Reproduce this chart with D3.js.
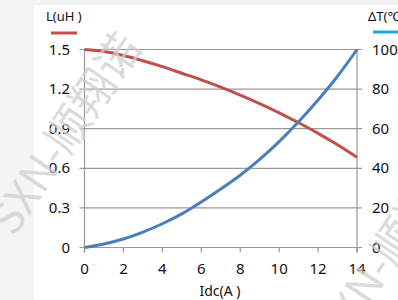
<!DOCTYPE html>
<html>
<head>
<meta charset="utf-8">
<script src="https://cdn.jsdelivr.net/npm/d3@7"></script>
<style>
  body { margin: 0; background: #f4f4f4; }
  svg { display: block; }
  text { font-family: "Noto Sans", "Open Sans", sans-serif; fill: #111; }
</style>
</head>
<body>
<script>
// data
var current = [0, 1, 2, 3, 4, 5, 6, 7, 8, 9, 10, 11, 12, 13, 14];
var inductance = [1.5, 1.485, 1.455, 1.415, 1.37, 1.32, 1.27, 1.215, 1.155, 1.09, 1.02, 0.945, 0.865, 0.778, 0.683];
var tempRise = [0, 1.8, 4.3, 7.8, 12, 17, 23, 29.5, 36.5, 44.5, 53.5, 63.5, 74.5, 86.5, 100];
var xTicks = [0, 2, 4, 6, 8, 10, 12, 14];
var lTicks = [0, 0.3, 0.6, 0.9, 1.2, 1.5];
var tTicks = [0, 20, 40, 60, 80, 100];

var W = 398, H = 300;
var m = { left: 84.5, right: 41, top: 49.5, bottom: 52.5 };

var svg = d3.select("body").append("svg").attr("width", W).attr("height", H);

// white sheet behind the chart
svg.append("rect").attr("x", 34).attr("y", 5).attr("width", W - 34).attr("height", H - 5).attr("fill", "#fff");

var x = d3.scaleLinear().domain([0, 14]).range([m.left, W - m.right]);
var yL = d3.scaleLinear().domain([0, 1.5]).range([H - m.bottom, m.top]);
var yT = d3.scaleLinear().domain([0, 100]).range([H - m.bottom, m.top]);

// gridlines with ticks poking out on both sides
svg.append("g").selectAll("line").data(lTicks).enter().append("line")
  .attr("x1", m.left - 5).attr("x2", W - m.right + 5)
  .attr("y1", function(d) { return yL(d); }).attr("y2", function(d) { return yL(d); })
  .attr("stroke", "#9a9a9a").attr("stroke-width", 1.2);

// left and right axis lines
[m.left, W - m.right].forEach(function(px) {
  svg.append("line").attr("x1", px).attr("x2", px).attr("y1", m.top).attr("y2", H - m.bottom + 5)
    .attr("stroke", "#9a9a9a").attr("stroke-width", 1.2);
});

// x ticks
svg.append("g").selectAll("line").data(xTicks).enter().append("line")
  .attr("x1", function(d) { return x(d); }).attr("x2", function(d) { return x(d); })
  .attr("y1", H - m.bottom).attr("y2", H - m.bottom + 5)
  .attr("stroke", "#9a9a9a").attr("stroke-width", 1.2);

// tick labels
svg.append("g").selectAll("text").data(xTicks).enter().append("text")
  .attr("x", function(d) { return x(d); }).attr("y", H - m.bottom + 26)
  .attr("text-anchor", "middle").style("font-size", "15px").text(function(d) { return d; });

svg.append("g").selectAll("text").data(lTicks).enter().append("text")
  .attr("x", 70).attr("y", function(d) { return yL(d) + 5; })
  .attr("text-anchor", "end").style("font-size", "15px").text(function(d) { return d; });

svg.append("g").selectAll("text").data(tTicks).enter().append("text")
  .attr("x", 372).attr("y", function(d) { return yT(d) + 5; })
  .style("font-size", "15px").text(function(d) { return d; });

// axis titles and legend swatches
svg.append("text").attr("x", 46).attr("y", 21).style("font-size", "13px").text("L(uH )");
svg.append("line").attr("x1", 51).attr("x2", 77).attr("y1", 33).attr("y2", 33)
  .attr("stroke", "#c0504d").attr("stroke-width", 3);
svg.append("text").attr("x", 368).attr("y", 21).style("font-size", "13px").text("ΔT(℃)");
svg.append("line").attr("x1", 373).attr("x2", 400).attr("y1", 32).attr("y2", 32)
  .attr("stroke", "#1ea6e6").attr("stroke-width", 3);
svg.append("text").attr("x", 220).attr("y", 296).attr("text-anchor", "middle")
  .style("font-size", "14px").text("Idc(A )");

// curves
var lineL = d3.line().x(function(d, i) { return x(current[i]); }).y(function(d) { return yL(d); })
  .curve(d3.curveMonotoneX);
var lineT = d3.line().x(function(d, i) { return x(current[i]); }).y(function(d) { return yT(d); })
  .curve(d3.curveMonotoneX);

svg.append("path").attr("d", lineL(inductance)).attr("fill", "none")
  .attr("stroke", "#c0504d").attr("stroke-width", 3);
svg.append("path").attr("d", lineT(tempRise)).attr("fill", "none")
  .attr("stroke", "#4a7ebb").attr("stroke-width", 3);

// watermark
svg.append("text").attr("transform", "translate(14,238) rotate(-56)")
  .style("font-size", "44px").style("font-family", "'Noto Sans CJK SC', sans-serif")
  .style("fill", "#cfcfcf").style("fill-opacity", 0.75).text("SXN-顺翔诺");
svg.append("text").attr("transform", "translate(340,350) rotate(-56)")
  .style("font-size", "44px").style("font-family", "'Noto Sans CJK SC', sans-serif")
  .style("fill", "#cfcfcf").style("fill-opacity", 0.75).text("SXN-顺翔诺");
</script>
</body>
</html>
